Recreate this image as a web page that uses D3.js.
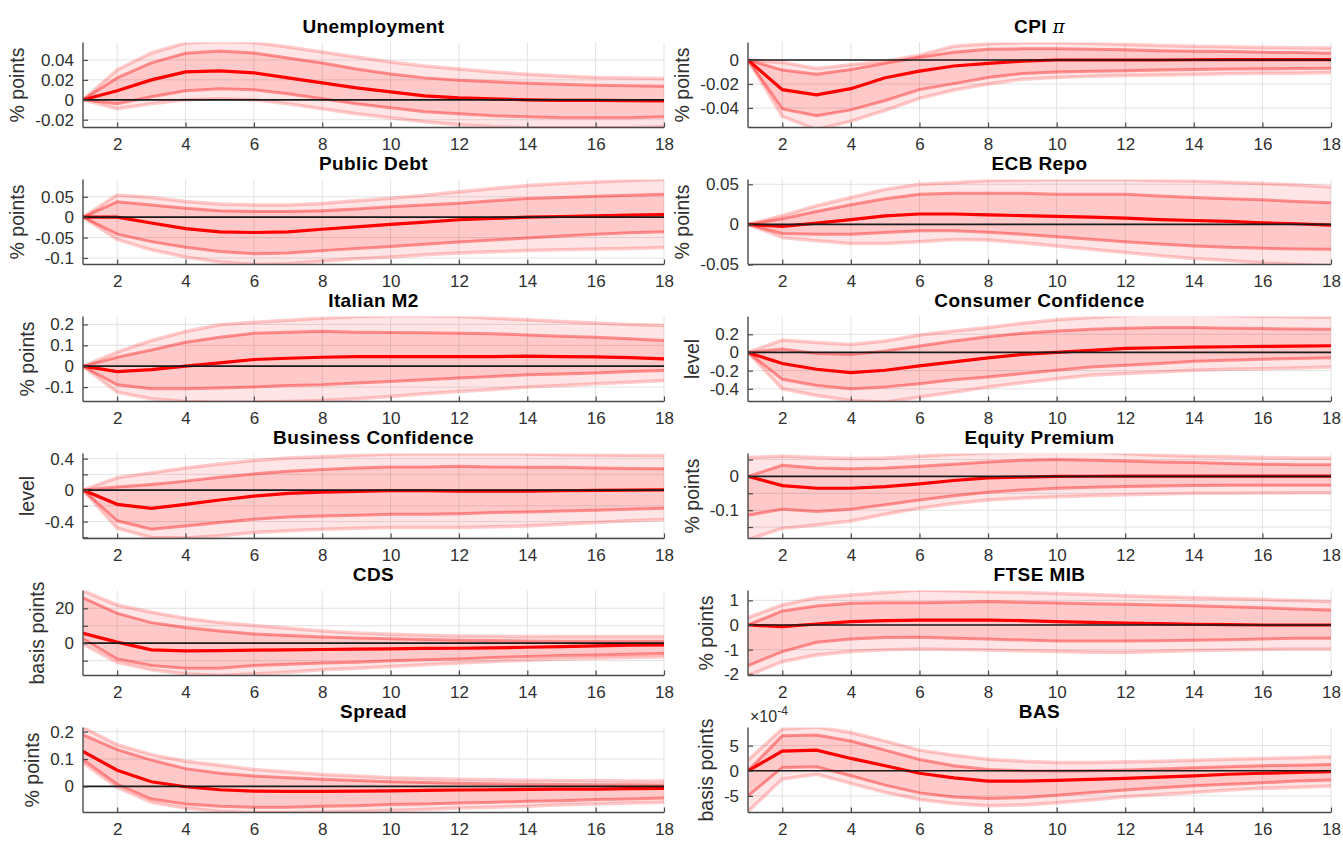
<!DOCTYPE html>
<html>
<head>
<meta charset="utf-8">
<script src="https://cdn.jsdelivr.net/npm/d3@7"></script>
<style>
  body { margin: 0; background: #fff; }
  svg text { font-family: "Liberation Sans", Arial, Helvetica, sans-serif; }
</style>
</head>
<body>
<svg id="chart" width="1343" height="842"></svg>
<script>
// Impulse responses: horizons 1..18, median with 68% and 90% bands
const horizons = [1, 2, 3, 4, 5, 6, 7, 8, 9, 10, 11, 12, 13, 14, 15, 16, 17, 18];
const xTickValues = [2, 4, 6, 8, 10, 12, 14, 16, 18];

// Unemployment (% points)
const unempMed  = [0, 0.009, 0.020, 0.028, 0.029, 0.027, 0.022, 0.017, 0.012, 0.008, 0.004, 0.002, 0.001, 0.000, -0.0005, -0.0005, -0.0008, -0.001];
const unempHi68 = [0, 0.022, 0.037, 0.0467, 0.049, 0.047, 0.042, 0.037, 0.031, 0.026, 0.022, 0.0196, 0.018, 0.0166, 0.0155, 0.0145, 0.014, 0.0135];
const unempLo68 = [0, -0.004, 0.003, 0.009, 0.011, 0.010, 0.006, 0.001, -0.004, -0.008, -0.012, -0.014, -0.016, -0.017, -0.018, -0.018, -0.018, -0.017];
const unempHi90 = [0, 0.030, 0.047, 0.057, 0.0585, 0.0575, 0.053, 0.048, 0.043, 0.038, 0.034, 0.031, 0.028, 0.0257, 0.024, 0.0223, 0.0218, 0.0213];
const unempLo90 = [0, -0.009, -0.004, 0.000, 0.001, 0.000, -0.004, -0.009, -0.014, -0.018, -0.022, -0.025, -0.027, -0.028, -0.028, -0.028, -0.028, -0.027];
const unempTicks = [-0.02, 0, 0.02, 0.04];

// CPI inflation (% points)
const cpiMed  = [0, -0.0247, -0.029, -0.0239, -0.0148, -0.0093, -0.005, -0.0028, -0.001, 0, 0, 0, 0, 0.0002, 0.0003, 0.0003, 0.0003, 0.0003];
const cpiHi68 = [0, -0.0084, -0.0118, -0.0079, -0.0028, 0.0023, 0.0065, 0.009, 0.0093, 0.0093, 0.009, 0.0085, 0.0078, 0.0073, 0.007, 0.0064, 0.0062, 0.0056];
const cpiLo68 = [0, -0.0408, -0.0464, -0.0416, -0.0338, -0.0247, -0.0197, -0.0146, -0.0112, -0.0101, -0.0093, -0.009, -0.0084, -0.008, -0.0076, -0.0073, -0.007, -0.0068];
const cpiHi90 = [0, -0.002, -0.007, -0.004, -0.001, 0.004, 0.0115, 0.0135, 0.0145, 0.0145, 0.014, 0.013, 0.012, 0.0115, 0.011, 0.0105, 0.0102, 0.010];
const cpiLo90 = [0, -0.047, -0.058, -0.051, -0.042, -0.032, -0.025, -0.020, -0.016, -0.0145, -0.0135, -0.013, -0.0125, -0.012, -0.0115, -0.011, -0.011, -0.0105];
const cpiTicks = [-0.04, -0.02, 0];

// Public debt (% points)
const debtMed  = [0, 0, -0.0144, -0.028, -0.036, -0.0376, -0.036, -0.0296, -0.024, -0.0176, -0.012, -0.0064, -0.003, 0, 0.0016, 0.003, 0.005, 0.0064];
const debtHi68 = [0, 0.0376, 0.030, 0.022, 0.016, 0.0136, 0.0136, 0.016, 0.020, 0.0256, 0.030, 0.034, 0.040, 0.0456, 0.048, 0.0512, 0.0536, 0.056];
const debtLo68 = [0, -0.0416, -0.060, -0.0736, -0.084, -0.0896, -0.088, -0.082, -0.077, -0.072, -0.0664, -0.061, -0.056, -0.051, -0.0464, -0.0416, -0.0384, -0.036];
const debtHi90 = [0, 0.0544, 0.048, 0.0384, 0.032, 0.030, 0.0296, 0.0336, 0.040, 0.0464, 0.0536, 0.0624, 0.0704, 0.0776, 0.0824, 0.0864, 0.0896, 0.0928];
const debtLo90 = [0, -0.0544, -0.080, -0.0976, -0.110, -0.116, -0.114, -0.108, -0.102, -0.0976, -0.092, -0.088, -0.085, -0.0816, -0.080, -0.078, -0.077, -0.0744];
const debtTicks = [-0.1, -0.05, 0, 0.05];

// ECB repo rate (% points)
const repoMed  = [0, -0.0024, 0.0016, 0.006, 0.0106, 0.013, 0.013, 0.0118, 0.011, 0.010, 0.009, 0.0078, 0.006, 0.0049, 0.0037, 0.002, 0.0008, -0.0008];
const repoHi68 = [0, 0.007, 0.016, 0.0245, 0.032, 0.0375, 0.0388, 0.039, 0.0388, 0.0375, 0.0375, 0.0375, 0.0355, 0.0335, 0.032, 0.0306, 0.0286, 0.027];
const repoLo68 = [0, -0.0114, -0.0122, -0.0122, -0.0102, -0.008, -0.008, -0.0098, -0.0122, -0.0155, -0.0184, -0.0216, -0.0245, -0.027, -0.0286, -0.0298, -0.0306, -0.031];
const repoHi90 = [0, 0.011, 0.0233, 0.0335, 0.0437, 0.050, 0.052, 0.0547, 0.0555, 0.056, 0.056, 0.056, 0.0547, 0.054, 0.0527, 0.051, 0.049, 0.0465];
const repoLo90 = [0, -0.0163, -0.0204, -0.0237, -0.0237, -0.0216, -0.0188, -0.0196, -0.0229, -0.027, -0.031, -0.035, -0.039, -0.0425, -0.045, -0.048, -0.050, -0.052];
const repoTicks = [-0.05, 0, 0.05];

// Italian M2 (% points)
const m2Med  = [0, -0.0255, -0.016, 0, 0.016, 0.032, 0.038, 0.043, 0.046, 0.046, 0.046, 0.046, 0.046, 0.048, 0.046, 0.045, 0.041, 0.035];
const m2Hi68 = [0, 0.043, 0.078, 0.115, 0.139, 0.158, 0.163, 0.167, 0.163, 0.161, 0.160, 0.158, 0.155, 0.150, 0.144, 0.139, 0.131, 0.123];
const m2Lo68 = [0, -0.089, -0.108, -0.108, -0.104, -0.100, -0.0925, -0.089, -0.080, -0.073, -0.065, -0.057, -0.049, -0.041, -0.037, -0.032, -0.0255, -0.021];
const m2Hi90 = [0, 0.067, 0.123, 0.166, 0.198, 0.210, 0.220, 0.230, 0.238, 0.242, 0.242, 0.239, 0.230, 0.222, 0.214, 0.207, 0.200, 0.195];
const m2Lo90 = [0, -0.124, -0.156, -0.169, -0.172, -0.172, -0.169, -0.164, -0.156, -0.145, -0.132, -0.121, -0.112, -0.100, -0.0925, -0.0845, -0.0765, -0.0686];
const m2Ticks = [-0.1, 0, 0.1, 0.2];

// Consumer confidence (level)
const consMed  = [0, -0.122, -0.185, -0.222, -0.196, -0.148, -0.104, -0.059, -0.022, 0, 0.022, 0.044, 0.052, 0.059, 0.063, 0.067, 0.070, 0.074];
const consHi68 = [0, 0.037, -0.011, -0.022, 0.015, 0.070, 0.126, 0.174, 0.211, 0.237, 0.255, 0.266, 0.274, 0.274, 0.266, 0.263, 0.259, 0.255];
const consLo68 = [0, -0.296, -0.363, -0.400, -0.381, -0.344, -0.300, -0.270, -0.233, -0.196, -0.159, -0.141, -0.122, -0.096, -0.085, -0.074, -0.067, -0.059];
const consHi90 = [0, 0.137, 0.111, 0.089, 0.126, 0.192, 0.237, 0.274, 0.322, 0.359, 0.385, 0.407, 0.420, 0.414, 0.407, 0.396, 0.392, 0.389];
const consLo90 = [0, -0.400, -0.474, -0.529, -0.548, -0.490, -0.437, -0.381, -0.333, -0.289, -0.252, -0.233, -0.215, -0.196, -0.185, -0.178, -0.170, -0.159];
const consTicks = [-0.4, -0.2, 0, 0.2];

// Business confidence (level)
const busMed  = [0, -0.181, -0.232, -0.181, -0.126, -0.076, -0.042, -0.025, -0.017, -0.008, -0.008, -0.013, -0.013, -0.013, -0.008, -0.004, 0, 0.004];
const busHi68 = [0, 0.038, 0.072, 0.114, 0.164, 0.206, 0.240, 0.261, 0.282, 0.295, 0.295, 0.303, 0.295, 0.290, 0.290, 0.282, 0.274, 0.270];
const busLo68 = [0, -0.390, -0.497, -0.455, -0.413, -0.370, -0.341, -0.328, -0.320, -0.307, -0.307, -0.299, -0.286, -0.278, -0.265, -0.257, -0.244, -0.232];
const busHi90 = [0, 0.156, 0.219, 0.282, 0.333, 0.375, 0.408, 0.425, 0.442, 0.459, 0.463, 0.463, 0.463, 0.459, 0.450, 0.446, 0.442, 0.438];
const busLo90 = [0, -0.484, -0.602, -0.610, -0.580, -0.539, -0.518, -0.497, -0.484, -0.476, -0.476, -0.476, -0.467, -0.455, -0.434, -0.413, -0.390, -0.375];
const busTicks = [-0.6, -0.4, -0.2, 0, 0.2, 0.4];
const busTickLabels = [-0.4, 0, 0.4];

// Equity premium (% points)
const eqMed  = [0, -0.027, -0.035, -0.035, -0.030, -0.022, -0.012, -0.004, -0.002, 0, 0.0005, 0.001, 0.001, 0.001, 0.001, 0.001, 0.001, 0.001];
const eqHi68 = [0, 0.033, 0.025, 0.023, 0.025, 0.030, 0.036, 0.043, 0.048, 0.050, 0.048, 0.046, 0.043, 0.041, 0.038, 0.036, 0.035, 0.035];
const eqLo68 = [-0.115, -0.097, -0.104, -0.097, -0.084, -0.070, -0.057, -0.047, -0.040, -0.035, -0.032, -0.030, -0.028, -0.027, -0.026, -0.026, -0.026, -0.026];
const eqHi90 = [0.056, 0.060, 0.056, 0.053, 0.055, 0.060, 0.066, 0.070, 0.072, 0.073, 0.073, 0.068, 0.063, 0.060, 0.058, 0.056, 0.055, 0.055];
const eqLo90 = [-0.187, -0.154, -0.144, -0.132, -0.112, -0.094, -0.080, -0.070, -0.064, -0.060, -0.057, -0.054, -0.052, -0.050, -0.050, -0.049, -0.048, -0.048];
const eqTicks = [-0.15, -0.1, -0.05, 0, 0.05];
const eqTickLabels = [-0.1, 0];

// CDS (basis points)
const cdsMed  = [5.7, 0.6, -3.8, -4.4, -4.2, -4.0, -3.8, -3.6, -3.4, -3.2, -3.0, -2.9, -2.7, -2.3, -1.9, -1.5, -1.1, -1.0];
const cdsHi68 = [26, 17.1, 11.8, 9, 7, 5.3, 4.4, 3.6, 3, 2.5, 2.1, 1.7, 1.5, 1.3, 1.1, 1.1, 1.1, 1.1];
const cdsLo68 = [2.5, -9, -12.8, -14.3, -14.3, -12.8, -12, -11.4, -10.9, -10.1, -9.5, -9, -8.2, -7.6, -7, -6.7, -6.3, -5.9];
const cdsHi90 = [30, 21.9, 17.7, 14.3, 11.8, 10.1, 8.6, 7, 5.9, 5.1, 4.6, 4.2, 4, 3.8, 3.8, 3.8, 3.8, 3.8];
const cdsLo90 = [-0.5, -10.9, -15.2, -17.7, -18.5, -17.7, -16.6, -15.2, -14.3, -13.3, -12.4, -11.4, -10.5, -9.7, -9, -8.6, -8.2, -7.8];
const cdsTicks = [-10, 0, 10, 20];
const cdsTickLabels = [0, 20];

// FTSE MIB (% points)
const ftseMed  = [0, -0.07, 0.04, 0.135, 0.18, 0.2, 0.2, 0.2, 0.18, 0.135, 0.11, 0.08, 0.055, 0.03, 0.015, 0, 0, 0];
const ftseHi68 = [0, 0.57, 0.77, 0.88, 0.9, 0.9, 0.92, 0.95, 0.92, 0.89, 0.86, 0.84, 0.81, 0.78, 0.74, 0.7, 0.65, 0.61];
const ftseLo68 = [-1.65, -1.08, -0.7, -0.57, -0.51, -0.5, -0.54, -0.57, -0.61, -0.65, -0.65, -0.65, -0.64, -0.62, -0.6, -0.57, -0.54, -0.54];
const ftseHi90 = [0.3, 0.81, 1.11, 1.22, 1.32, 1.42, 1.39, 1.35, 1.32, 1.28, 1.24, 1.19, 1.15, 1.11, 1.08, 1.04, 0.99, 0.95];
const ftseLo90 = [-2.05, -1.49, -1.22, -1.08, -1.01, -0.97, -0.99, -1.01, -1.05, -1.08, -1.11, -1.12, -1.08, -1.04, -1.01, -0.99, -0.97, -0.97];
const ftseTicks = [-2, -1, 0, 1];

// Sovereign spread (% points)
const sprMed  = [0.128, 0.059, 0.017, -0.001, -0.012, -0.017, -0.018, -0.018, -0.017, -0.016, -0.014, -0.013, -0.012, -0.011, -0.010, -0.010, -0.008, -0.007];
const sprHi68 = [0.188, 0.134, 0.096, 0.065, 0.048, 0.038, 0.032, 0.026, 0.022, 0.017, 0.014, 0.012, 0.010, 0.008, 0.007, 0.006, 0.006, 0.005];
const sprLo68 = [0.098, 0.008, -0.046, -0.064, -0.072, -0.076, -0.076, -0.072, -0.070, -0.066, -0.064, -0.060, -0.058, -0.054, -0.052, -0.048, -0.046, -0.042];
const sprHi90 = [0.215, 0.152, 0.116, 0.092, 0.077, 0.062, 0.053, 0.044, 0.038, 0.032, 0.029, 0.026, 0.024, 0.023, 0.022, 0.022, 0.020, 0.020];
const sprLo90 = [0.086, -0.004, -0.058, -0.079, -0.091, -0.096, -0.096, -0.094, -0.091, -0.088, -0.084, -0.079, -0.076, -0.072, -0.067, -0.064, -0.060, -0.058];
const sprTicks = [0, 0.1, 0.2];

// Bid-ask spread (basis points)
const basMed  = [0, 3.9e-4, 4.1e-4, 2.45e-4, 1.0e-4, -0.5e-4, -1.4e-4, -2.05e-4, -2.05e-4, -1.9e-4, -1.7e-4, -1.5e-4, -1.25e-4, -1.0e-4, -0.7e-4, -0.5e-4, -0.33e-4, -0.2e-4];
const basHi68 = [0, 6.95e-4, 7.1e-4, 5.9e-4, 4.1e-4, 2.25e-4, 1.0e-4, 0.26e-4, 0, -0.07e-4, 0, 0.13e-4, 0.33e-4, 0.6e-4, 0.8e-4, 1.0e-4, 1.1e-4, 1.25e-4];
const basLo68 = [-5.0e-4, 0.66e-4, 0.8e-4, -1.0e-4, -2.85e-4, -4.4e-4, -5.2e-4, -5.5e-4, -5.35e-4, -4.85e-4, -4.3e-4, -3.85e-4, -3.4e-4, -3.0e-4, -2.7e-4, -2.4e-4, -2.05e-4, -1.85e-4];
const basHi90 = [2.1e-4, 8.3e-4, 8.7e-4, 7.6e-4, 5.9e-4, 4.1e-4, 3.1e-4, 2.3e-4, 1.9e-4, 1.65e-4, 1.65e-4, 1.8e-4, 1.9e-4, 2.1e-4, 2.3e-4, 2.45e-4, 2.6e-4, 2.8e-4];
const basLo90 = [-8.1e-4, -1.65e-4, -0.7e-4, -2.5e-4, -4.3e-4, -5.7e-4, -6.5e-4, -6.95e-4, -6.8e-4, -6.35e-4, -5.8e-4, -5.15e-4, -4.7e-4, -4.3e-4, -3.85e-4, -3.5e-4, -3.3e-4, -3.05e-4];
const basTicks = [-5e-4, 0, 5e-4];

// Panel grid: two columns, six rows
const panels = [
  { title: "Unemployment", ylabel: "% points", col: 0, row: 0, med: unempMed, hi68: unempHi68, lo68: unempLo68, hi90: unempHi90, lo90: unempLo90, ylim: [-0.0278, 0.0575], ticks: unempTicks },
  { title: "CPI", pi: true, ylabel: "% points", col: 1, row: 0, med: cpiMed, hi68: cpiHi68, lo68: cpiLo68, hi90: cpiHi90, lo90: cpiLo90, ylim: [-0.0563, 0.0146], ticks: cpiTicks },
  { title: "Public Debt", ylabel: "% points", col: 0, row: 1, med: debtMed, hi68: debtHi68, lo68: debtLo68, hi90: debtHi90, lo90: debtLo90, ylim: [-0.116, 0.0923], ticks: debtTicks },
  { title: "ECB Repo", ylabel: "% points", col: 1, row: 1, med: repoMed, hi68: repoHi68, lo68: repoLo68, hi90: repoHi90, lo90: repoLo90, ylim: [-0.05, 0.056], ticks: repoTicks },
  { title: "Italian M2", ylabel: "% points", col: 0, row: 2, med: m2Med, hi68: m2Hi68, lo68: m2Lo68, hi90: m2Hi90, lo90: m2Lo90, ylim: [-0.169, 0.238], ticks: m2Ticks },
  { title: "Consumer Confidence", ylabel: "level", col: 1, row: 2, med: consMed, hi68: consHi68, lo68: consLo68, hi90: consHi90, lo90: consLo90, ylim: [-0.54, 0.396], ticks: consTicks },
  { title: "Business Confidence", ylabel: "level", col: 0, row: 3, med: busMed, hi68: busHi68, lo68: busLo68, hi90: busHi90, lo90: busLo90, ylim: [-0.615, 0.465], ticks: busTicks, labels: busTickLabels },
  { title: "Equity Premium", ylabel: "% points", col: 1, row: 3, med: eqMed, hi68: eqHi68, lo68: eqLo68, hi90: eqHi90, lo90: eqLo90, ylim: [-0.184, 0.068], ticks: eqTicks, labels: eqTickLabels },
  { title: "CDS", ylabel: "basis points", col: 0, row: 4, med: cdsMed, hi68: cdsHi68, lo68: cdsLo68, hi90: cdsHi90, lo90: cdsLo90, ylim: [-18.5, 30.2], ticks: cdsTicks, labels: cdsTickLabels },
  { title: "FTSE MIB", ylabel: "% points", col: 1, row: 4, med: ftseMed, hi68: ftseHi68, lo68: ftseLo68, hi90: ftseHi90, lo90: ftseLo90, ylim: [-2.05, 1.4], ticks: ftseTicks },
  { title: "Spread", ylabel: "% points", col: 0, row: 5, med: sprMed, hi68: sprHi68, lo68: sprLo68, hi90: sprHi90, lo90: sprLo90, ylim: [-0.095, 0.215], ticks: sprTicks },
  { title: "BAS", ylabel: "basis points", col: 1, row: 5, med: basMed, hi68: basHi68, lo68: basLo68, hi90: basHi90, lo90: basLo90, ylim: [-8.3e-4, 8.6e-4], ticks: basTicks, exponent: -4 }
];

const svg = d3.select("#chart");
const colX = [[83, 664], [748, 1331]];
const plotTop = r => 42.5 + r * 137;
const plotH = 85;

const axisColor = "#4a4a4a";
const textColor = "#303030";
const gridColor = "#e2e2e2";

const fmtTick = (v, exp) => {
  const s = exp ? v / Math.pow(10, exp) : v;
  return String(+s.toFixed(6));
};

panels.forEach((p, i) => {
  const [x0, x1] = colX[p.col];
  const top = plotTop(p.row);
  const bottom = top + plotH;

  const x = d3.scaleLinear().domain([1, 18]).range([x0, x1]);
  const y = d3.scaleLinear().domain(p.ylim).range([bottom, top]);

  const g = svg.append("g");
  const clipId = "clip" + i;
  svg.append("clipPath").attr("id", clipId)
    .append("rect").attr("x", x0).attr("y", top).attr("width", x1 - x0).attr("height", plotH);

  // grid
  const grid = g.append("g");
  grid.selectAll(".gx").data(xTickValues).join("line")
    .attr("x1", d => x(d)).attr("x2", d => x(d)).attr("y1", top).attr("y2", bottom)
    .attr("stroke", gridColor).attr("stroke-width", 1);
  grid.selectAll(".gy").data(p.ticks).join("line")
    .attr("x1", x0).attr("x2", x1).attr("y1", d => y(d)).attr("y2", d => y(d))
    .attr("stroke", gridColor).attr("stroke-width", 1);

  const rows = horizons.map((h, k) => ({ h, med: p.med[k], hi68: p.hi68[k], lo68: p.lo68[k], hi90: p.hi90[k], lo90: p.lo90[k] }));

  const plot = g.append("g").attr("clip-path", `url(#${clipId})`);
  const area = (lo, hi) => d3.area().x(d => x(d.h)).y0(d => y(d[lo])).y1(d => y(d[hi]));
  const line = key => d3.line().x(d => x(d.h)).y(d => y(d[key]));

  plot.append("path").datum(rows).attr("d", area("lo90", "hi90")).attr("fill", "rgba(255,0,0,0.1)");
  plot.append("path").datum(rows).attr("d", area("lo68", "hi68")).attr("fill", "rgba(255,0,0,0.12)");
  ["hi90", "lo90"].forEach(k => plot.append("path").datum(rows).attr("d", line(k))
    .attr("fill", "none").attr("stroke", "rgba(255,0,0,0.2)").attr("stroke-width", 3.5));
  ["hi68", "lo68"].forEach(k => plot.append("path").datum(rows).attr("d", line(k))
    .attr("fill", "none").attr("stroke", "rgba(255,0,0,0.38)").attr("stroke-width", 3));
  plot.append("path").datum(rows).attr("d", line("med"))
    .attr("fill", "none").attr("stroke", "#ff0000").attr("stroke-width", 3.2);
  // zero reference line
  plot.append("line").attr("x1", x(1)).attr("x2", x(18)).attr("y1", y(0)).attr("y2", y(0))
    .attr("stroke", "#1a1a1a").attr("stroke-width", 1.7);

  // axes
  const yAxis = d3.axisLeft(y).tickValues(p.ticks).tickSize(-5).tickPadding(9)
    .tickFormat(v => {
      if (p.labels && !p.labels.some(l => Math.abs(l - v) < 1e-9)) return "";
      return fmtTick(v, p.exponent);
    });
  const xAxis = d3.axisBottom(x).tickValues(xTickValues).tickSize(-5).tickPadding(10).tickFormat(d3.format("d"));

  const ya = g.append("g").attr("transform", `translate(${x0},0)`).call(yAxis);
  const xa = g.append("g").attr("transform", `translate(0,${bottom})`).call(xAxis);
  [ya, xa].forEach(a => {
    a.select(".domain").attr("stroke", axisColor).attr("stroke-width", 1.4);
    a.selectAll(".tick line").attr("stroke", axisColor).attr("stroke-width", 1.2);
    a.selectAll("text").attr("fill", textColor).style("font-size", "17px")
      .style("font-family", '"Liberation Sans", Arial, sans-serif');
  });
  ya.select(".domain").attr("d", `M0,${top}V${bottom}`);
  xa.select(".domain").attr("d", `M${x0},0H${x1}`);

  // title
  const t = g.append("text").attr("x", (x0 + x1) / 2).attr("y", top - 9.5)
    .attr("text-anchor", "middle").attr("fill", "#000")
    .style("font-size", "19px").style("font-weight", "bold").style("letter-spacing", "0.4px").text(p.title);
  if (p.pi) {
    t.append("tspan").text(" ");
    t.append("tspan").style("font-family", '"DejaVu Serif", serif').style("font-style", "italic")
      .style("font-weight", "normal").style("font-size", "18px").text("π");
  }

  // y label placed left of the widest tick label
  let minLeft = x0;
  ya.selectAll(".tick text").each(function () {
    if (!d3.select(this).text()) return;
    minLeft = Math.min(minLeft, x0 + this.getBBox().x);
  });
  const ly = (top + bottom) / 2;
  const lx = minLeft - 11;
  g.append("text").attr("transform", `translate(${lx},${ly}) rotate(-90)`)
    .attr("text-anchor", "middle").attr("fill", textColor)
    .style("font-size", "19.5px").text(p.ylabel);

  // exponent marker
  if (p.exponent) {
    const e = g.append("text").attr("x", x0 + 2).attr("y", top - 6).attr("fill", textColor).style("font-size", "16px");
    e.append("tspan").text("×10");
    e.append("tspan").attr("dy", -7).style("font-size", "12px").text(String(p.exponent));
  }
});
</script>
</body>
</html>
